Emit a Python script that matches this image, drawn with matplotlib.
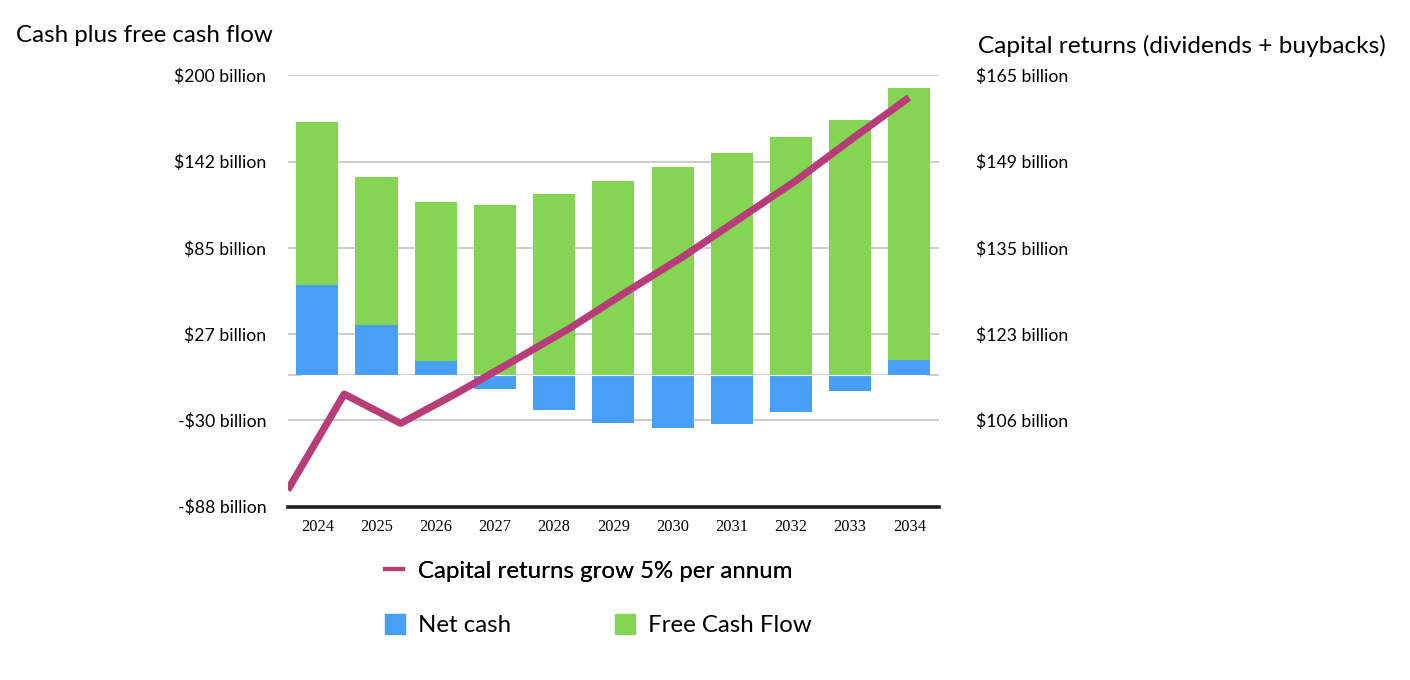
import numpy as np
import matplotlib.pyplot as plt
from matplotlib.patches import Patch
from matplotlib.lines import Line2D

years = ["2024", "2025", "2026", "2027", "2028", "2029", "2030", "2031", "2032", "2033", "2034"]
net_cash = [60, 33, 9, -9.5, -23.5, -32, -35.5, -33, -24.6, -10.8, 9.8]
free_cash_flow = [108.7, 99, 106.1, 113.3, 120.7, 129.4, 138.7, 148.1, 158.7, 170.1, 181.6]
# capital returns line, 12 points on its own x scale
capital_returns = [94.1, 110.5, 105.5, 110.7, 116.2, 121.8, 128, 134, 140.5, 147, 154.2, 161.2]

left_ticks = [200, 142.4, 84.8, 27.2, -30.4, -88]
left_labels = ["$200 billion", "$142 billion", "$85 billion", "$27 billion", "-$30 billion", "-$88 billion"]
right_labels = ["$165 billion", "$149 billion", "$135 billion", "$123 billion", "$106 billion", ""]

blue = "#479FF8"
green = "#83D553"
magenta = "#B93C7A"
font = "Lato"

fig = plt.figure(figsize=(14.1, 6.8), dpi=100)
rect = [287.7 / 1410, 1 - 506.7 / 680, (939 - 287.7) / 1410, (506.7 - 75.3) / 680]
ax = fig.add_axes(rect)

x = np.arange(len(years))
nc = np.array(net_cash)
fcf = np.array(free_cash_flow)
base = np.where(nc > 0, nc, 0)
ax.bar(x, nc, width=0.71, color=blue, zorder=2)
ax.bar(x, fcf, bottom=base, width=0.71, color=green, zorder=2)

ax.set_xlim(-0.5, len(years) - 0.5)
ax.set_ylim(-88, 200)
for t in left_ticks[:-1]:
    ax.axhline(t, color="#C4C4C4", lw=1.2, zorder=1)
ax.axhline(0, color="#C4C4C4", lw=1.2, zorder=1)
ax.axhline(0, xmin=0.02, xmax=0.98, color="white", lw=0.8, zorder=3)

for s in ["top", "left", "right"]:
    ax.spines[s].set_visible(False)
ax.spines["bottom"].set_linewidth(2.6)
ax.spines["bottom"].set_color("#1E1E1E")

ax.set_yticks(left_ticks)
ax.set_yticklabels(left_labels, fontsize=12.7, family=font)
ax.tick_params(axis="y", length=0, pad=15.5)
ax.set_xticks(x)
ax.set_xticklabels(years, fontsize=11.8, family="Liberation Serif")
ax.tick_params(axis="x", length=0, pad=9)

# right axis and the line
ax2 = fig.add_axes(rect, frameon=False)
r_lo = 106 + (-88 + 30.4) * 59 / 230.4
r_hi = 165
ax2.set_ylim(r_lo, r_hi)
ax2.set_xlim(0, 11.53)
line_pos = np.arange(len(capital_returns))
ax2.plot(line_pos, capital_returns, color=magenta, lw=5.2, solid_capstyle="butt", zorder=4)
r_ticks = [106 + (t + 30.4) * 59 / 230.4 for t in left_ticks]
ax2.yaxis.tick_right()
ax2.set_yticks(r_ticks)
ax2.set_yticklabels(right_labels, fontsize=12.7, family=font)
ax2.tick_params(axis="y", length=0, pad=27)
ax2.set_xticks([])

fig.text(16 / 1410, 1 - 36 / 680, "Cash plus free cash flow", fontsize=17.4, family=font,
         va="center", ha="left")
fig.text(978 / 1410, 1 - 46 / 680, "Capital returns (dividends + buybacks)", fontsize=17.6,
         family=font, va="center", ha="left")

leg1 = fig.legend([Line2D([0], [0], color=magenta, lw=3)], ["Capital returns grow 5% per annum"],
                  loc="center left", bbox_to_anchor=(385 / 1410, 1 - 571 / 680), frameon=False,
                  borderpad=0, borderaxespad=0, handlelength=0.75, handletextpad=0.62,
                  prop={"family": font, "size": 17.3})
fig.add_artist(leg1)
fig.legend([Patch(color=blue), Patch(color=green)], ["Net cash", "Free Cash Flow"], ncol=2,
           loc="center left", bbox_to_anchor=(385 / 1410, 1 - 625 / 680), frameon=False,
           borderpad=0, borderaxespad=0, handlelength=0.83, handleheight=0.92,
           handletextpad=0.55, columnspacing=4.3, prop={"family": font, "size": 17.3})

plt.savefig("out.png", dpi=100)
